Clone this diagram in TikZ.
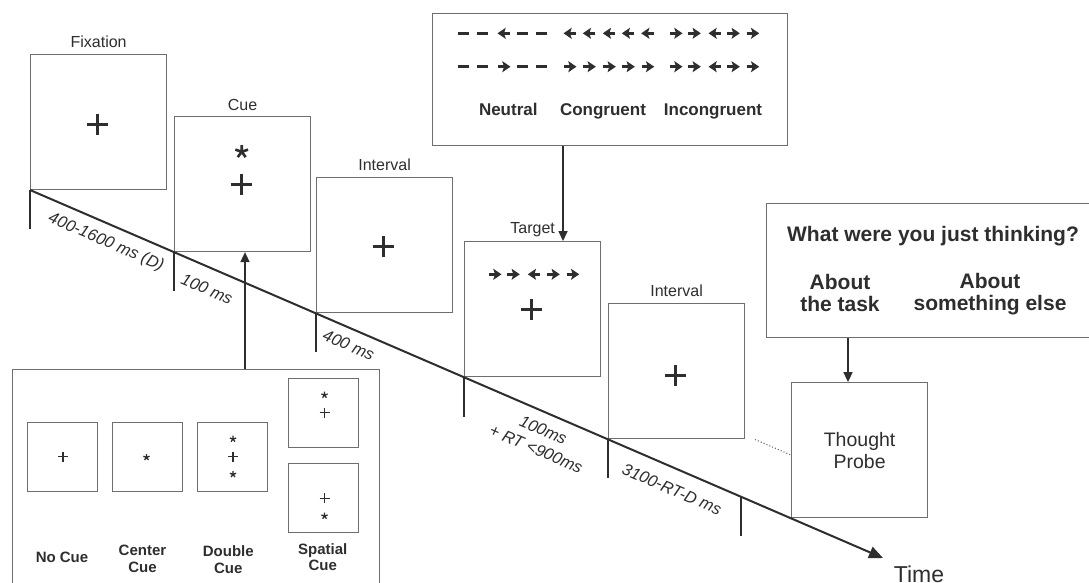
\documentclass[tikz,border=0pt]{standalone}
\usepackage{fontspec}
\setmainfont{Liberation Sans}
\usetikzlibrary{arrows.meta,calc}
\definecolor{boxc}{HTML}{6E6E6E}
\definecolor{ink}{HTML}{2E2E2E}
\begin{document}
\begin{tikzpicture}[x=1pt,y=-1pt,
  screen/.style={draw=boxc,line width=1.2pt,minimum width=136pt,minimum height=135pt,anchor=south west,inner sep=0pt},
  thumb/.style={draw=boxc,line width=1.1pt,minimum width=70pt,minimum height=68.5pt,anchor=north west,inner sep=0pt},
  frame/.style={draw=boxc,line width=1.2pt,inner sep=0pt},
  ttl/.style={font=\fontsize{16}{18}\selectfont,text=ink,anchor=base},
  dur/.style={font=\fontsize{16.5}{18}\selectfont\itshape,text=ink,rotate=-23.36,inner sep=0pt},
  tickmark/.style={draw=ink,line width=2pt},
  conn/.style={draw=ink,line width=1.6pt,-{Triangle[length=10pt,width=9pt]}},
  boldlab/.style={font=\fontsize{15}{16.5}\selectfont\bfseries,text=ink,anchor=base,align=center,inner sep=0pt},
  flab/.style={font=\fontsize{17}{19}\selectfont\bfseries,text=ink,anchor=base,inner sep=0pt},
  qlab/.style={font=\fontsize{21}{22.4}\selectfont\bfseries,text=ink,anchor=base,align=center,inner sep=0pt},
  bigplus/.pic={\draw[ink,line width=3pt] (-10.5,0)--(10.5,0) (0,-10.5)--(0,10.5);},
  smallplus/.pic={\draw[ink,line width=1.4pt] (-5,0)--(5,0) (0,-5)--(0,5);},
  bigast/.pic={\draw[ink,line width=2.6pt] (0,0)--(0,-6.7) (0,0)--(6.37,-2.07) (0,0)--(-6.37,-2.07) (0,0)--(3.94,5.42) (0,0)--(-3.94,5.42);},
  smallast/.pic={\draw[ink,line width=1.3pt] (0,0)--(0,-3.3) (0,0)--(3.14,-1.02) (0,0)--(-3.14,-1.02) (0,0)--(1.94,2.67) (0,0)--(-1.94,2.67);},
  rarr/.pic={\fill[ink] (6.5,0) -- (-1.8,-5.6) -- (0,0) -- (-1.8,5.6) -- cycle; \draw[ink,line width=3.2pt] (-6,0) -- (0.5,0);},
  larr/.pic={\fill[ink] (-6.5,0) -- (1.8,-5.6) -- (0,0) -- (1.8,5.6) -- cycle; \draw[ink,line width=3.2pt] (6,0) -- (-0.5,0);},
  fdash/.pic={\draw[ink,line width=2.6pt] (-5.5,0) -- (5.5,0);}
]
\fill[white] (0,0) rectangle (1089,582);
\useasboundingbox (0,0) rectangle (1089,582);

% timeline
\coordinate (t0) at (30,190);
\coordinate (t1) at (883,558);
\coordinate (k5) at (741,496.8);

% screens
\node[screen] (fix) at (t0) {};
\node[screen] (cue) at (174,252.1) {};
\node[screen] (int1) at (316,313.4) {};
\node[screen] (tgt) at (464,377.2) {};
\node[screen] (int2) at (608,439.4) {};
\node[screen,font=\fontsize{19.5}{21.7}\selectfont,text=ink,align=center] (probe) at (791,518.3) {Thought\\Probe};

\draw[ink,line width=2pt,-{Triangle[length=14pt,width=12pt]}] (t0) -- (t1);

% ticks
\draw[tickmark] (fix.south west) -- ++(0,38.5);
\draw[tickmark] (cue.south west) -- ++(0,38.5);
\draw[tickmark] (int1.south west) -- ++(0,38.5);
\draw[tickmark] (tgt.south west) -- ++(0,39.5);
\draw[tickmark] (int2.south west) -- ++(0,38.5);
\draw[tickmark] (k5) -- ++(0,39);

% titles
\node[ttl] (fixL) at ($(fix.north)+(0,-6)$) {Fixation};
\node[ttl] (cueL) at ($(cue.north)+(0,-5)$) {Cue};
\node[ttl] (int1L) at ($(int1.north)+(0,-6.5)$) {Interval};
\node[ttl] (tgtL) at ($(tgt.north)+(0,-7.5)$) {Target};
\node[ttl] (int2L) at ($(int2.north)+(0,-6.5)$) {Interval};

% screen contents
\pic at (97.8,124) {bigplus};
\pic at (241.7,151.7) {bigast};
\pic at (241.7,184.3) {bigplus};
\pic at (383.5,246.7) {bigplus};
\pic at (531.7,309.3) {bigplus};
\pic at (675.5,375.8) {bigplus};
\pic at (495,274.3) {rarr};
\pic at (513.3,274.3) {rarr};
\pic at (534.3,274.3) {larr};
\pic at (553.3,274.3) {rarr};
\pic at (572.7,274.3) {rarr};

% durations
\node[dur] (d1) at (106,242.5) {400-1600 ms (D)};
\node[dur] (d2) at (207,289) {100 ms};
\node[dur] (d3) at (348.7,345) {400 ms};
\node[dur] (d4) at (543.3,430) {100ms};
\node[dur] (d5) at (536,449) {+ RT <900ms};
\node[dur] (d6) at (672,489.3) {3100-RT-D ms};

% flanker box
\node[frame,anchor=north west,minimum width=355pt,minimum height=132pt] (flank) at (432,13) {};
\foreach \y/\m in {33.3/larr,66.7/rarr}{
  \pic at (463.8,\y) {fdash};
  \pic at (482.5,\y) {fdash};
  \pic at (504,\y) {\m};
  \pic at (522.3,\y) {fdash};
  \pic at (541.7,\y) {fdash};
  \foreach \x in {570,589.3,609.3,628.3,647.7} {\pic at (\x,\y) {\m};}
  \pic at (676,\y) {rarr};
  \pic at (694.3,\y) {rarr};
  \pic at (715,\y) {larr};
  \pic at (733.3,\y) {rarr};
  \pic at (752.7,\y) {rarr};
}
\node[flab] (neu) at (508.3,115) {Neutral};
\node[flab] (con) at (603,115) {Congruent};
\node[flab] (inc) at (713,115) {Incongruent};
\coordinate (fa) at (563,0);
\draw[conn] (flank.south -| fa) -- (tgt.north -| fa);

% thought question box
\node[frame,anchor=north west,minimum width=326pt,minimum height=134pt] (qbox) at (766,203) {};
\node[qlab] (q) at (933,241.7) {What were you just thinking?};
\node[qlab] (a1) at (840,311.7) {About\\the task};
\node[qlab] (a2) at (990,310.7) {About\\something else};
\coordinate (qa) at (848,0);
\draw[conn] (qbox.south -| qa) -- (probe.north -| qa);

% dotted
\coordinate (dd0) at (755,439.5);
\coordinate (dd1) at (791,455);
\draw[boxc,line width=1.1pt,dotted] (dd0) -- (dd1);

% cue types
\node[frame,anchor=north west,minimum width=367pt,minimum height=240pt] (ctbox) at (12,369) {};
\coordinate (ca) at (245,0);
\draw[conn] (ctbox.north -| ca) -- (cue.south -| ca);
\node[thumb] (nc) at (27,422) {};
\node[thumb] (cc) at (112,422) {};
\node[thumb] (dc) at (197,422) {};
\node[thumb] (sc1) at (288,378) {};
\node[thumb] (sc2) at (288,463) {};
\pic at (63,456.7) {smallplus};
\pic at (146.5,457.3) {smallast};
\pic at (233,439) {smallast};
\pic at (233,456.7) {smallplus};
\pic at (233,474.3) {smallast};
\pic at (324.5,395) {smallast};
\pic at (324.5,412.7) {smallplus};
\pic at (324.5,498.3) {smallplus};
\pic at (324.5,516) {smallast};
\node[boldlab] (ncL) at (62,562.3) {No Cue};
\node[boldlab] (ccL) at (142.5,572.3) {Center\\Cue};
\node[boldlab] (dcL) at (228.3,573) {Double\\Cue};
\node[boldlab] (scL) at (322.8,570.7) {Spatial\\Cue};

\node[font=\fontsize{23}{25}\selectfont,text=ink,anchor=base] (time) at (919,582) {Time};
\end{tikzpicture}
\end{document}
